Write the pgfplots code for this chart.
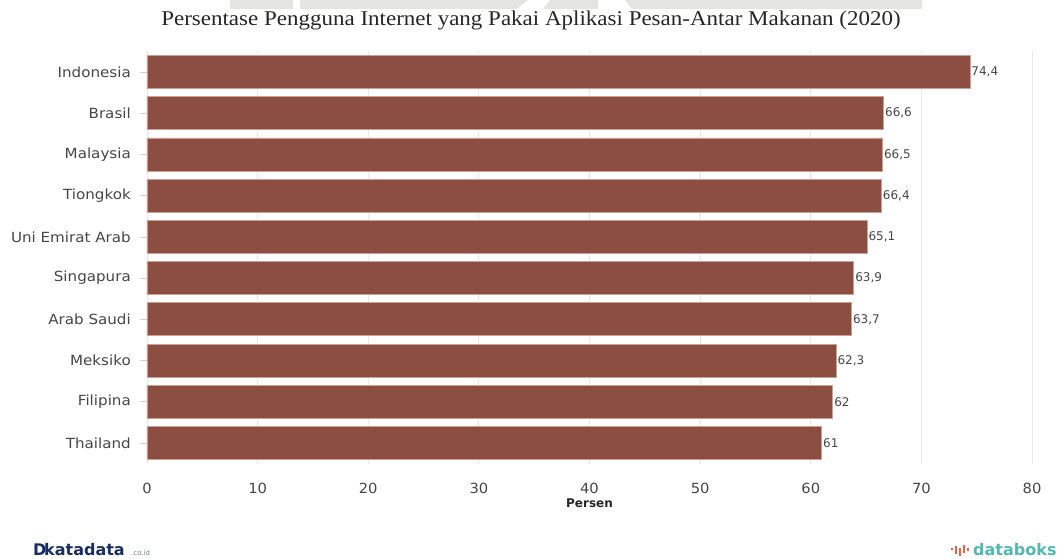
\documentclass[border=0pt]{standalone}
\usepackage{fontspec}
\setmainfont{DejaVu Sans}
\newfontfamily\titlefont{Liberation Serif}
\usepackage{pgfplots}
\pgfplotsset{compat=1.18}
\definecolor{barc}{RGB}{141,78,66}
\definecolor{bare}{RGB}{205,160,150}
\definecolor{txt}{RGB}{70,70,70}
\definecolor{gridc}{RGB}{232,232,232}
\definecolor{wm}{RGB}{228,229,225}
\definecolor{navy}{RGB}{25,45,100}
\definecolor{teal}{RGB}{80,185,180}
\definecolor{redo}{RGB}{235,95,70}
\begin{document}
\begin{tikzpicture}[x=1pt,y=1pt]
\useasboundingbox (0,0) rectangle (1061,559);
% watermark
\fill[wm] (230,550) rectangle (293,559);
\fill[wm] (300,550) -- (300,559) -- (528,559) -- (517,550) -- cycle;
\fill[wm] (543,550) -- (550,559) -- (598,559) -- (598,550) -- cycle;
\fill[wm] (632,550) -- (625,559) -- (922,559) -- (922,550) -- cycle;
% title
\node[font={\titlefont\fontsize{21}{24}\selectfont}, text=black!85, xscale=1.095] at (531,539) {Persentase Pengguna Internet yang Pakai Aplikasi Pesan-Antar Makanan (2020)};
\begin{axis}[
  at={(147pt,95.4pt)}, anchor=south west,
  scale only axis, width=885pt, height=412.2pt,
  xbar, bar width=33pt,
  xmin=0, xmax=80, ymin=-0.5, ymax=9.5,
  ytick={0,...,9},
  yticklabels={Thailand,Filipina,Meksiko,Arab Saudi,Singapura,Uni Emirat Arab,Tiongkok,Malaysia,Brasil,Indonesia},
  xtick={0,10,...,80},
  ytick pos=left,
  xmajorgrids, grid style={gridc, line width=0.8pt},
  axis line style={draw=none},
  tick align=outside, major tick length=7pt,
  ytick style={draw=gray!35, line width=0.6pt},
  xtick style={draw=none},
  yticklabel style={font=\fontsize{14}{16}\selectfont, text=txt, inner sep=0pt, xshift=-9pt, xscale=1.08},
  xticklabel style={font=\fontsize{14}{16}\selectfont, text=txt, inner sep=0pt, yshift=-12pt, xscale=1.05},
  /pgf/number format/assume math mode=true,
  xlabel={\textbf{Persen}},
  xlabel style={font=\fontsize{12}{14}\selectfont, text=black!85, at={(axis description cs:0.5,0)}, anchor=center, yshift=-40pt},
  nodes near coords,
  nodes near coords style={font=\fontsize{12}{14}\selectfont, text=txt, anchor=west, inner sep=1pt, /pgf/number format/use comma},
  clip=false,
]
\addplot[fill=barc, draw=bare, line width=0.8pt] coordinates {
  (61,0) (62,1) (62.3,2) (63.7,3) (63.9,4) (65.1,5) (66.4,6) (66.5,7) (66.6,8) (74.4,9)
};
\end{axis}
% logos
\node[anchor=west, inner sep=0pt, text=navy, font=\fontsize{16}{18}\selectfont\bfseries] at (33,9) {D};
\node[anchor=west, inner sep=0pt, text=navy, font=\fontsize{16}{18}\selectfont\bfseries] at (44,9) {katadata};
\node[anchor=west, inner sep=0pt, text=navy!60, font=\fontsize{7}{8}\selectfont] at (131,6) {.co.id};
\fill[redo] (951,9) rectangle (953,11);
\fill[redo] (955,5) rectangle (957,13);
\fill[redo] (959,3) rectangle (961,11);
\fill[redo] (963,6) rectangle (965,14);
\fill[redo] (967,8) rectangle (969,11);
\node[anchor=west, inner sep=0pt, text=teal, font=\fontsize{16}{18}\selectfont\bfseries] at (973,9) {databoks};
\end{tikzpicture}
\end{document}
